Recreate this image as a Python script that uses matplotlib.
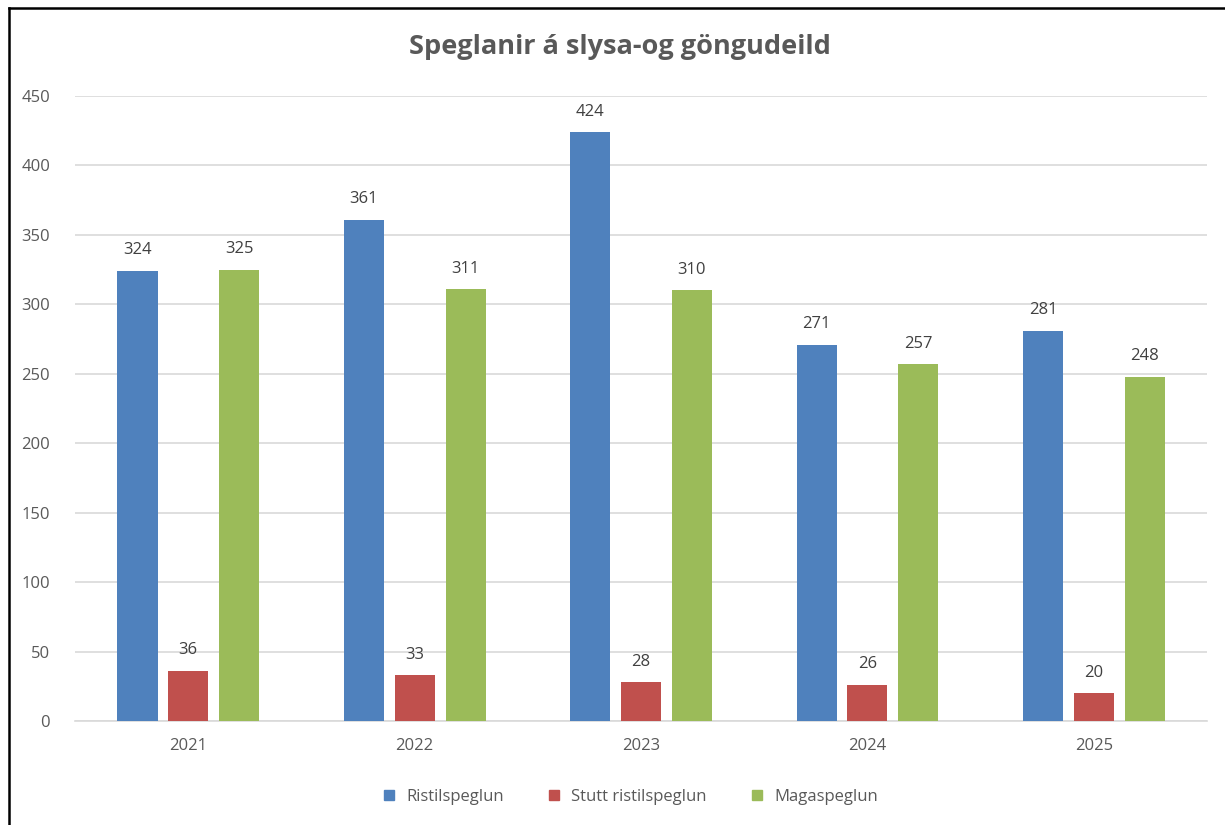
import matplotlib
matplotlib.use("Agg")
import matplotlib.pyplot as plt
from matplotlib.lines import Line2D
import numpy as np

years = ["2021", "2022", "2023", "2024", "2025"]
ristil = [324, 361, 424, 271, 281]
stutt = [36, 33, 28, 26, 20]
maga = [325, 311, 310, 257, 248]
series_names = ["Ristilspeglun", "Stutt ristilspeglun", "Magaspeglun"]
colors = ["#4F81BD", "#C0504D", "#9BBB59"]
yticks = [0, 50, 100, 150, 200, 250, 300, 350, 400, 450]

plt.rcParams['font.family'] = ['Open Sans', 'DejaVu Sans']
txt = "#595959"

fig = plt.figure(figsize=(12.25, 8.25), dpi=100)
ax = fig.add_axes([75/1225, 1-721/825, (1207-75)/1225, (721-96)/825])

x = np.arange(len(years))
w = 0.177
offs = [-0.224, 0, 0.225]
for vals, off, c, name in zip([ristil, stutt, maga], offs, colors, series_names):
    bars = ax.bar(x + off, vals, w, color=c, label=name, zorder=3)
    for b, v in zip(bars, vals):
        ax.annotate(str(v), (b.get_x() + b.get_width()/2, v), xytext=(0, 9),
                    textcoords="offset points", ha="center", va="bottom",
                    fontsize=12, color="#404040")

ax.set_xlim(-0.5, len(years) - 0.5)
ax.set_ylim(0, 450)
ax.set_yticks(yticks)
ax.set_xticks(x)
ax.set_xticklabels(years)
ax.grid(axis="y", color="#D9D9D9", linewidth=1.2, zorder=0)
for s in ["top", "right", "left"]:
    ax.spines[s].set_visible(False)
ax.spines["bottom"].set_color("#D9D9D9")
ax.spines["bottom"].set_linewidth(1.2)
ax.tick_params(axis="both", length=0, labelsize=12, colors=txt)
ax.tick_params(axis="y", pad=18)
ax.tick_params(axis="x", pad=12)

fig.text(620/1225, 1-47/825, "Speglanir á slysa-og göngudeild", ha="center", va="center",
         fontsize=19.5, fontweight="bold", color=txt)

handles = [Line2D([], [], marker="s", linestyle="none", markersize=7.5, color=c) for c in colors]
fig.legend(handles, series_names, loc="center", bbox_to_anchor=(625/1225, 1-797/825),
           ncol=3, frameon=False, fontsize=12, labelcolor=txt, handletextpad=0.05,
           columnspacing=2.0)

# outer border (left and top)
fig.add_artist(Line2D([9/1225, 9/1225], [0, 1-8/825], transform=fig.transFigure, color="black", linewidth=1.8))
fig.add_artist(Line2D([9/1225, 1], [1-8/825, 1-8/825], transform=fig.transFigure, color="black", linewidth=1.8))

fig.savefig("out.png", dpi=100)
